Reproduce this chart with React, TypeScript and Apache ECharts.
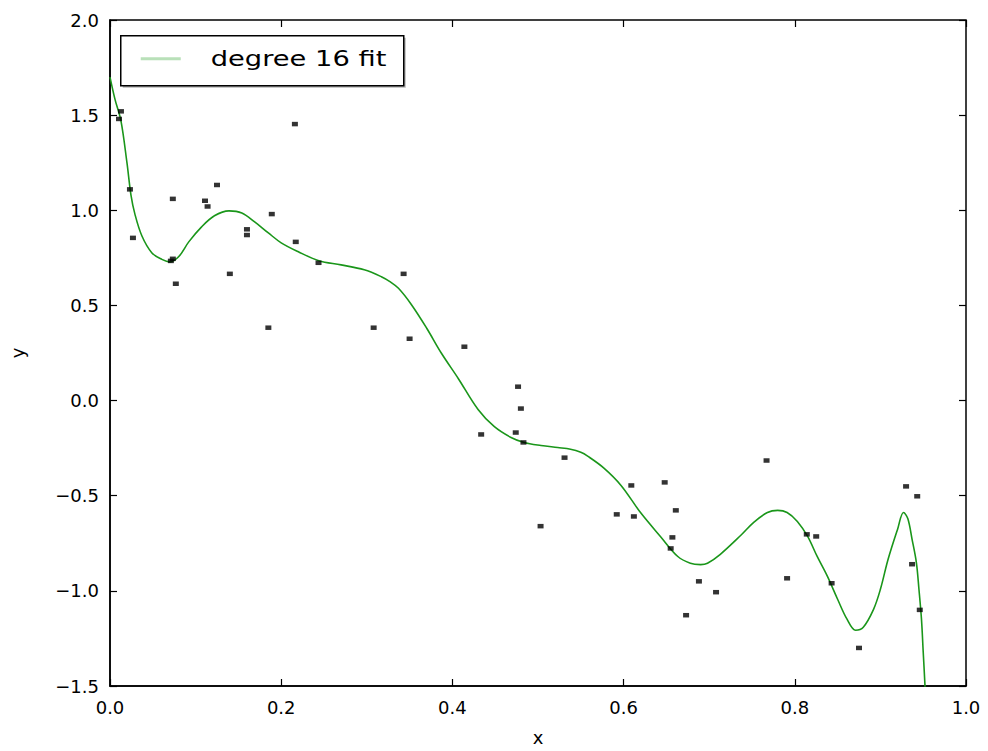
import React, { useEffect, useRef } from "react";
import * as echarts from "echarts";

// Sample points (x, y)
const pointX = [
  0.0128, 0.0105, 0.0233, 0.0268, 0.0734, 0.0711, 0.0734, 0.0769, 0.111, 0.114,
  0.125, 0.14, 0.16, 0.16, 0.189, 0.185, 0.216, 0.217, 0.2436, 0.343,
  0.308, 0.35, 0.414, 0.4767, 0.48, 0.474, 0.483, 0.4336, 0.531, 0.503,
  0.609, 0.592, 0.612, 0.648, 0.661, 0.657, 0.655, 0.688, 0.708, 0.673,
  0.767, 0.791, 0.814, 0.825, 0.843, 0.875, 0.93, 0.943, 0.937, 0.946,
];
const pointY = [
  1.52, 1.48, 1.11, 0.855, 1.06, 0.734, 0.745, 0.614, 1.05, 1.02,
  1.133, 0.666, 0.9, 0.87, 0.98, 0.383, 1.453, 0.834, 0.724, 0.666,
  0.383, 0.325, 0.283, 0.073, -0.042, -0.168, -0.22, -0.178, -0.3, -0.66,
  -0.446, -0.598, -0.609, -0.43, -0.577, -0.719, -0.777, -0.95, -1.007, -1.128,
  -0.315, -0.934, -0.703, -0.714, -0.96, -1.3, -0.451, -0.503, -0.86, -1.1,
];

// Degree 16 fit curve
const fitX = [
  0.0, 0.006, 0.0128, 0.0198, 0.0245, 0.0291, 0.0373, 0.049, 0.0606, 0.07,
  0.0804, 0.092, 0.107, 0.122, 0.139, 0.154, 0.169, 0.185, 0.2, 0.22,
  0.244, 0.27, 0.297, 0.317, 0.327, 0.337, 0.352, 0.37, 0.387, 0.407, 0.43,
  0.4487, 0.4685, 0.4837, 0.5035, 0.523, 0.538, 0.55, 0.558, 0.577, 0.597,
  0.62, 0.643, 0.663, 0.678, 0.69, 0.698, 0.713, 0.737, 0.752, 0.768,
  0.78, 0.791, 0.803, 0.815, 0.826, 0.838, 0.85, 0.861, 0.871, 0.88,
  0.892, 0.9, 0.909, 0.92, 0.927, 0.932, 0.937, 0.942, 0.945, 0.948,
  0.95, 0.952, 0.953,
];
const fitY = [
  1.7, 1.58, 1.47, 1.25, 1.08, 0.98, 0.865, 0.776, 0.742, 0.729,
  0.757, 0.834, 0.913, 0.971, 0.997, 0.986, 0.939, 0.881, 0.829, 0.782,
  0.735, 0.713, 0.687, 0.651, 0.625, 0.59, 0.505, 0.38, 0.25, 0.115, -0.047,
  -0.136, -0.194, -0.22, -0.236, -0.247, -0.256, -0.272, -0.292, -0.355, -0.446,
  -0.59, -0.714, -0.818, -0.855, -0.862, -0.855, -0.808, -0.708, -0.64, -0.588,
  -0.577, -0.588, -0.635, -0.714, -0.818, -0.923, -1.044, -1.149, -1.207, -1.191,
  -1.097, -0.992, -0.834, -0.677, -0.588, -0.62, -0.729, -0.85, -0.99, -1.15,
  -1.32, -1.49, -1.6,
];

const seriesName = "degree 16 fit";

const fmt = (v: number) => (v < 0 ? "\u2212" + Math.abs(v).toFixed(1) : v.toFixed(1));

export default function App() {
  const ref = useRef<HTMLDivElement>(null);
  useEffect(() => {
    if (!ref.current) return;
    const chart = echarts.init(ref.current, undefined, { renderer: "svg" });
    const font = "DejaVu Sans";
    const left = 108, top = 20, right = 966, bottom = 696;
    const tickCommon = { show: true, inside: true, length: 7, lineStyle: { color: "#000", width: 1.2 } };
    chart.setOption({
      animation: false,
      backgroundColor: "#fff",
      grid: { left, top, width: right - left, height: bottom - top, show: true, borderColor: "#000", borderWidth: 1.5, backgroundColor: "transparent" },
      xAxis: [
        {
          type: "value", min: 0, max: 1, interval: 0.2,
          name: "x", nameLocation: "middle", nameGap: 42,
          nameTextStyle: { fontFamily: font, fontSize: 18, color: "#000" },
          axisLine: { show: true, onZero: false, lineStyle: { color: "#000", width: 1.5 } },
          axisTick: tickCommon,
          axisLabel: { formatter: fmt, fontFamily: font, fontSize: 18, color: "#000", margin: 12 },
          splitLine: { show: false },
        },
        {
          type: "value", min: 0, max: 1, interval: 0.2, position: "top",
          axisLine: { show: false, onZero: false }, axisTick: tickCommon, axisLabel: { show: false }, splitLine: { show: false },
        },
      ],
      yAxis: [
        {
          type: "value", min: -1.5, max: 2, interval: 0.5,
          name: "y", nameLocation: "middle", nameGap: 84,
          nameTextStyle: { fontFamily: font, fontSize: 18, color: "#000" },
          axisLine: { show: true, onZero: false, lineStyle: { color: "#000", width: 1.5 } },
          axisTick: tickCommon,
          axisLabel: { formatter: fmt, fontFamily: font, fontSize: 18, color: "#000", margin: 11 },
          splitLine: { show: false },
        },
        {
          type: "value", min: -1.5, max: 2, interval: 0.5, position: "right",
          axisLine: { show: false, onZero: false }, axisTick: tickCommon, axisLabel: { show: false }, splitLine: { show: false },
        },
      ],
      series: [
        {
          name: seriesName,
          type: "line",
          data: fitX.map((x, i) => [x, fitY[i]]),
          showSymbol: false,
          symbol: "none",
          smooth: 0.35,
          clip: true,
          lineStyle: { color: "#1a961a", width: 1.6 },
          z: 2,
        },
        {
          name: "samples",
          type: "scatter",
          data: pointX.map((x, i) => [x, pointY[i]]),
          symbol: "rect",
          symbolSize: [6, 4.5],
          itemStyle: { color: "#000" },
          z: 3,
        },
      ],
      graphic: [
        {
          type: "group",
          left: 120,
          top: 35,
          children: [
            { type: "rect", shape: { x: 2, y: 2, width: 283, height: 50 }, style: { fill: "#b8b8b8" } },
            { type: "rect", shape: { x: 0, y: 0, width: 283, height: 50 }, style: { fill: "#fff", stroke: "#000", lineWidth: 1.5 } },
            { type: "line", shape: { x1: 20, y1: 23, x2: 60, y2: 23 }, style: { stroke: "#b9e0b9", lineWidth: 3 } },
            { type: "text", x: 90, y: 23, scaleX: 1.3, style: { text: seriesName, fontFamily: font, fontSize: 21, fill: "#000", verticalAlign: "middle", align: "left" } },
          ],
        },
      ],
    });
    return () => chart.dispose();
  }, []);
  return <div ref={ref} style={{ position: "absolute", left: 0, top: 0, width: 988, height: 751 }} />;
}
